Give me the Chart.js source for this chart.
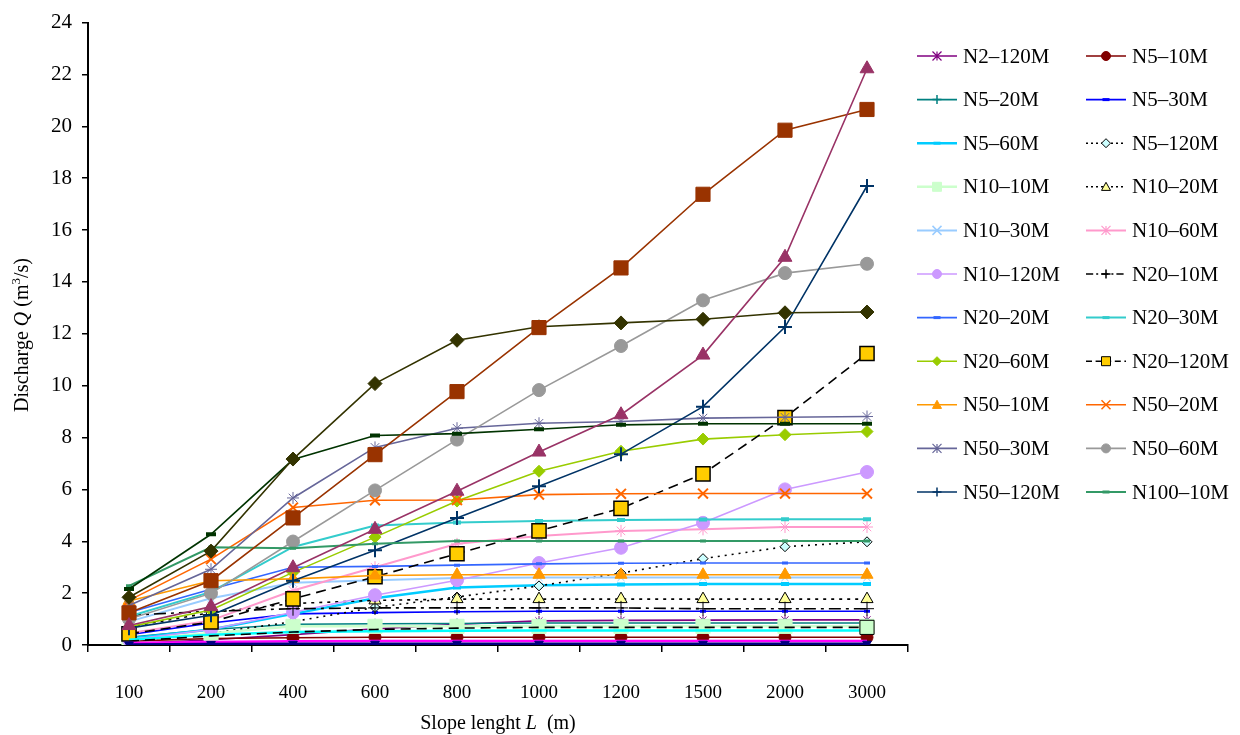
<!DOCTYPE html>
<html><head><meta charset="utf-8">
<script src="https://cdn.jsdelivr.net/npm/chart.js@4/dist/chart.umd.min.js"></script>
<style>html,body{margin:0;padding:0;background:#fff}canvas{display:block}</style>
</head><body>
<canvas id="c" width="1240" height="735"></canvas>
<script>
// ---------- DATA ----------
const categories = ['100','200','400','600','800','1000','1200','1500','2000','3000'];
const yTickMin = 0, yTickMax = 24, yTickStep = 2;

const N2_120M  = [0.05, 0.20, 0.40, 0.62, 0.80, 0.93, 0.95, 0.96, 0.97, 0.97];
const N5_10M   = [0.15, 0.25, 0.28, 0.30, 0.30, 0.30, 0.30, 0.30, 0.30, 0.30];
const N5_20M   = [0.30, 0.60, 0.80, 0.82, 0.83, 0.85, 0.85, 0.85, 0.85, 0.85];
const N5_30M   = [0.40, 0.85, 1.20, 1.25, 1.28, 1.30, 1.30, 1.30, 1.30, 1.30];
const N5_60M   = [0.25, 0.60, 1.20, 1.80, 2.22, 2.30, 2.33, 2.35, 2.35, 2.35];
const N5_120M  = [0.15, 0.45, 0.90, 1.45, 1.85, 2.28, 2.77, 3.33, 3.79, 3.98];
const N10_10M  = [0.20, 0.45, 0.72, 0.72, 0.72, 0.72, 0.72, 0.72, 0.72, 0.72];
const N10_20M  = [0.70, 1.25, 1.60, 1.72, 1.77, 1.77, 1.77, 1.77, 1.77, 1.77];
const N10_30M  = [0.90, 1.80, 2.40, 2.50, 2.58, 2.60, 2.60, 2.60, 2.60, 2.60];
const N10_60M  = [0.45, 0.95, 2.10, 3.00, 3.90, 4.20, 4.40, 4.46, 4.55, 4.55];
const N10_120M = [0.20, 0.60, 1.26, 1.92, 2.50, 3.16, 3.75, 4.71, 6.00, 6.67];
const N20_10M  = [1.15, 1.30, 1.40, 1.43, 1.43, 1.43, 1.43, 1.40, 1.40, 1.40];
const N20_20M  = [1.25, 2.15, 3.00, 3.03, 3.08, 3.13, 3.15, 3.16, 3.16, 3.16];
const N20_30M  = [1.10, 2.05, 3.78, 4.61, 4.72, 4.78, 4.82, 4.84, 4.85, 4.85];
const N20_60M  = [0.70, 1.35, 2.80, 4.16, 5.55, 6.70, 7.47, 7.94, 8.11, 8.23];
const N20_120M = [0.43, 0.89, 1.78, 2.63, 3.52, 4.40, 5.27, 6.60, 8.77, 11.24];
const N50_10M  = [1.70, 2.48, 2.55, 2.68, 2.71, 2.71, 2.71, 2.71, 2.71, 2.71];
const N50_20M  = [1.72, 3.31, 5.30, 5.58, 5.59, 5.80, 5.83, 5.84, 5.84, 5.84];
const N50_30M  = [1.52, 2.92, 5.67, 7.62, 8.36, 8.55, 8.62, 8.75, 8.78, 8.81];
const N50_60M  = [1.00, 1.99, 3.99, 5.96, 7.92, 9.83, 11.53, 13.29, 14.34, 14.70];
const N50_120M = [0.65, 1.15, 2.48, 3.65, 4.90, 6.12, 7.36, 9.19, 12.26, 17.70];
const N100_10M = [2.28, 3.77, 3.73, 3.90, 4.01, 4.01, 4.01, 4.01, 4.01, 4.01];
// series drawn in the plot but not listed in the legend
const N100_20M  = [2.16, 4.27, 7.15, 8.08, 8.15, 8.32, 8.49, 8.53, 8.53, 8.53];
const N100_30M  = [1.84, 3.62, 7.17, 10.08, 11.75, 12.27, 12.42, 12.56, 12.81, 12.84];
const N100_60M  = [1.24, 2.48, 4.90, 7.34, 9.77, 12.24, 14.54, 17.38, 19.85, 20.65];
const N100_120M = [0.75, 1.48, 2.98, 4.46, 5.93, 7.44, 8.88, 11.18, 14.95, 22.22];
const N2_10M    = [0.08, 0.12, 0.14, 0.15, 0.15, 0.15, 0.15, 0.15, 0.15, 0.15];
const N2_20M    = [0.02, 0.04, 0.05, 0.05, 0.05, 0.05, 0.05, 0.05, 0.05, 0.05];
const N2_30M    = [0.20, 0.40, 0.50, 0.53, 0.55, 0.56, 0.56, 0.56, 0.56, 0.56];
const N2_60M    = [0.15, 0.35, 0.50, 0.60, 0.65, 0.68, 0.68, 0.68, 0.68, 0.68];

// ---------- STYLES ----------
const FONT = "'Liberation Serif', 'Times New Roman', serif";
const series = [
  {label:'N2–120M',  data:N2_120M,  color:'#800080', ps:'star',     r:5},
  {label:'N5–10M',   data:N5_10M,   color:'#800000', ps:'circle',   r:6},
  {label:'N5–20M',   data:N5_20M,   color:'#008080', ps:'cross',    r:5},
  {label:'N5–30M',   data:N5_30M,   color:'#0000FF', ps:'line',     r:3, pbw:3},
  {label:'N5–60M',   data:N5_60M,   color:'#00CCFF', ps:'line',     r:4, pbw:4, w:2.5},
  {label:'N5–120M',  data:N5_120M,  color:'#000000', ps:'rectRot',  r:5, fill:'#CCFFFF', dash:[2,5]},
  {label:'N10–10M',  data:N10_10M,  color:'#CCFFCC', ps:'rect',     r:10, w:2.5},
  {label:'N10–20M',  data:N10_20M,  color:'#000000', ps:'triangle', r:7, fill:'#FFFF99', dash:[3,5]},
  {label:'N10–30M',  data:N10_30M,  color:'#99CCFF', ps:'crossRot', r:5, w:2},
  {label:'N10–60M',  data:N10_60M,  color:'#FF99CC', ps:'star',     r:6, w:2},
  {label:'N10–120M', data:N10_120M, color:'#CC99FF', ps:'circle',   r:6.5},
  {label:'N20–10M',  data:N20_10M,  color:'#000000', ps:'cross',    r:7, dash:[12,5,3,5]},
  {label:'N20–20M',  data:N20_20M,  color:'#3366FF', ps:'line',     r:3, pbw:3},
  {label:'N20–30M',  data:N20_30M,  color:'#33CCCC', ps:'line',     r:4, pbw:4, w:2},
  {label:'N20–60M',  data:N20_60M,  color:'#99CC00', ps:'rectRot',  r:6},
  {label:'N20–120M', data:N20_120M, color:'#000000', ps:'rect',     r:10, fill:'#FFCC00', dash:[10,6], pbw:1.5},
  {label:'N50–10M',  data:N50_10M,  color:'#FF9900', ps:'triangle', r:7},
  {label:'N50–20M',  data:N50_20M,  color:'#FF6600', ps:'crossRot', r:7, pbw:2},
  {label:'N50–30M',  data:N50_30M,  color:'#666699', ps:'star',     r:6},
  {label:'N50–60M',  data:N50_60M,  color:'#999999', ps:'circle',   r:6.5},
  {label:'N50–120M', data:N50_120M, color:'#003366', ps:'cross',    r:7, pbw:2},
  {label:'N100–10M', data:N100_10M, color:'#339966', ps:'line',     r:3, pbw:3, w:2},
  {label:'N100–20M', data:N100_20M, color:'#003300', ps:'line',     r:5, pbw:4, hidden:true},
  {label:'N100–30M', data:N100_30M, color:'#333300', ps:'rectRot',  r:7, hidden:true},
  {label:'N100–60M', data:N100_60M, color:'#993300', ps:'rect',     r:10, hidden:true},
  {label:'N100–120M',data:N100_120M,color:'#993366', ps:'triangle', r:8, hidden:true},
  {label:'N2–30M',   data:N2_30M,   color:'#00FFFF', ps:'line',     r:0, w:2.5, hidden:true},
  {label:'N2–60M',   data:N2_60M,   color:'#000000', ps:'rect',     r:[0,0,0,0,0,0,0,0,0,10], fill:'#CCFFCC', dash:[10,6], hidden:true},
  {label:'N2–10M',   data:N2_10M,   color:'#FF00FF', ps:'line',     r:0, w:2.5, hidden:true},
  {label:'N2–20M',   data:N2_20M,   color:'#000080', ps:'triangle', r:5, rot:180, w:2.5, hidden:true}
];

const datasets = series.map((s, i) => ({
  label: s.label,
  data: s.data,
  borderColor: s.color,
  backgroundColor: s.fill || s.color,
  borderWidth: s.w || 1.6,
  borderDash: s.dash || [],
  pointStyle: s.ps,
  pointRadius: s.r,
  pointRotation: s.rot || 0,
  pointBorderColor: s.color,
  pointBackgroundColor: s.fill || s.color,
  pointBorderWidth: s.pbw || 1,
  tension: 0,
  fill: false,
  order: -i
}));

// ---------- custom marker for legend ----------
function marker(ctx, s, x, y, r) {
  ctx.save();
  ctx.setLineDash([]);
  ctx.strokeStyle = s.color;
  ctx.fillStyle = s.fill || s.color;
  ctx.lineWidth = 1;
  ctx.beginPath();
  switch (s.ps) {
    case 'circle': ctx.arc(x, y, r, 0, Math.PI*2); ctx.fill(); ctx.stroke(); break;
    case 'rect': ctx.rect(x-r, y-r, 2*r, 2*r); ctx.fill(); ctx.stroke(); break;
    case 'rectRot': ctx.moveTo(x, y-r); ctx.lineTo(x+r, y); ctx.lineTo(x, y+r); ctx.lineTo(x-r, y); ctx.closePath(); ctx.fill(); ctx.stroke(); break;
    case 'triangle': ctx.moveTo(x, y-r); ctx.lineTo(x+r, y+r*0.8); ctx.lineTo(x-r, y+r*0.8); ctx.closePath(); ctx.fill(); ctx.stroke(); break;
    case 'cross': ctx.moveTo(x, y-r); ctx.lineTo(x, y+r); ctx.moveTo(x-r, y); ctx.lineTo(x+r, y); ctx.lineWidth=1.5; ctx.stroke(); break;
    case 'crossRot': ctx.moveTo(x-r, y-r); ctx.lineTo(x+r, y+r); ctx.moveTo(x+r, y-r); ctx.lineTo(x-r, y+r); ctx.lineWidth=1.5; ctx.stroke(); break;
    case 'star': ctx.moveTo(x, y-r); ctx.lineTo(x, y+r); ctx.moveTo(x-r, y-r); ctx.lineTo(x+r, y+r); ctx.moveTo(x+r, y-r); ctx.lineTo(x-r, y+r); ctx.lineWidth=1.2; ctx.stroke(); break;
    case 'line': ctx.rect(x-r, y-1.5, 2*r, 3); ctx.fillStyle = s.color; ctx.fill(); break;
  }
  ctx.restore();
}

const customDraw = {
  id: 'customDraw',
  afterDraw(chart) {
    const ctx = chart.ctx;
    ctx.save();
    // legend (two columns, row-major order)
    const colLine = [917, 1086], colText = [963, 1132];
    ctx.font = '21px ' + FONT;
    ctx.textBaseline = 'middle';
    ctx.fillStyle = '#000';
    let k = 0;
    series.forEach(s => {
      if (s.hidden) return;
      const col = k % 2, row = Math.floor(k / 2);
      const y = 56 + row * 43.6;
      ctx.save();
      ctx.strokeStyle = s.color;
      ctx.lineWidth = s.w ? Math.min(s.w, 2.5) : 1.6;
      ctx.setLineDash(s.dash ? s.dash.map(v => Math.max(2, v*0.6)) : []);
      ctx.beginPath(); ctx.moveTo(colLine[col], y); ctx.lineTo(colLine[col] + 40, y); ctx.stroke();
      ctx.restore();
      const rr = s.ps === 'line' ? 3.5 : 4.5;
      marker(ctx, s, colLine[col] + 20, y, rr);
      ctx.fillStyle = '#000';
      ctx.fillText(s.label, colText[col], y + 1);
      k++;
    });

    // x-axis title: Slope lenght L (m)
    const area = chart.chartArea;
    const parts = [
      {t:'Slope lenght ', f:'20px ' + FONT},
      {t:'L', f:'italic 20px ' + FONT},
      {t:'  (m)', f:'20px ' + FONT}
    ];
    let total = 0;
    parts.forEach(p => { ctx.font = p.f; p.w = ctx.measureText(p.t).width; total += p.w; });
    let x = (area.left + area.right) / 2 - total / 2;
    ctx.textBaseline = 'alphabetic';
    ctx.textAlign = 'left';
    parts.forEach(p => { ctx.font = p.f; ctx.fillText(p.t, x, 729); x += p.w; });

    // y-axis title: Discharge Q (m3/s)
    ctx.save();
    ctx.translate(28, 335);
    ctx.rotate(-Math.PI / 2);
    const yp = [
      {t:'Discharge ', f:'20px ' + FONT, dy:0},
      {t:'Q', f:'italic 20px ' + FONT, dy:0},
      {t:' (m', f:'20px ' + FONT, dy:0},
      {t:'3', f:'13px ' + FONT, dy:-8},
      {t:'/s)', f:'20px ' + FONT, dy:0}
    ];
    total = 0;
    yp.forEach(p => { ctx.font = p.f; p.w = ctx.measureText(p.t).width; total += p.w; });
    x = -total / 2;
    yp.forEach(p => { ctx.font = p.f; ctx.fillText(p.t, x, p.dy); x += p.w; });
    ctx.restore();
    ctx.restore();
  }
};

new Chart(document.getElementById('c'), {
  type: 'line',
  data: { labels: categories, datasets },
  options: {
    responsive: false,
    devicePixelRatio: 1,
    animation: false,
    layout: { padding: { top: 19, right: 332, left: 0, bottom: 0 } },
    plugins: { legend: { display: false }, tooltip: { enabled: false } },
    scales: {
      x: {
        offset: true,
        ticks: { color: '#000', font: { family: FONT, size: 19 }, padding: 30, maxRotation: 0 },
        grid: { offset: true, drawOnChartArea: false, tickLength: 7, color: '#000', lineWidth: 1.5 },
        border: { color: '#000', width: 2 },
        afterFit(s) { s.height = 90; }
      },
      y: {
        min: yTickMin, max: yTickMax,
        ticks: { stepSize: yTickStep, color: '#000', font: { family: FONT, size: 21 }, padding: 10 },
        grid: { drawOnChartArea: false, tickLength: 6, color: '#000', lineWidth: 1.5 },
        border: { color: '#000', width: 2 },
        afterFit(s) { s.width = 88; }
      }
    }
  },
  plugins: [customDraw]
});
</script>
</body></html>
